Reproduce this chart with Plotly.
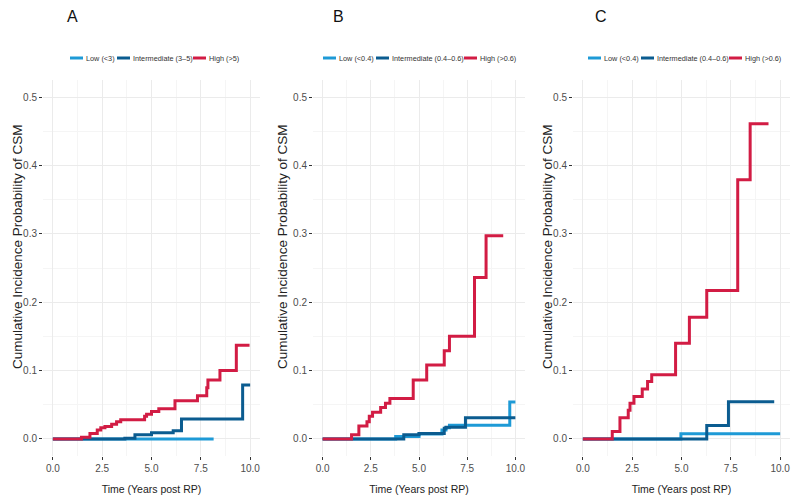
import plotly.graph_objects as go

# ---------------- data ----------------
# Panel A
A_low_t = [0, 8.15]
A_low_y = [0, 0]
A_int_t = [0, 3.65, 4.16, 5.0, 6.1, 6.52, 9.62, 10.0]
A_int_y = [0, 0.001, 0.006, 0.009, 0.012, 0.029, 0.079, 0.079]
A_high_t = [0, 1.45, 1.88, 2.25, 2.43, 2.64, 2.98, 3.23, 3.44, 4.65, 4.75, 5.0, 5.37,
            6.19, 7.33, 7.8, 7.86, 8.47, 9.3, 9.97]
A_high_y = [0, 0.0025, 0.008, 0.013, 0.0165, 0.018, 0.0215, 0.025, 0.028, 0.033, 0.036,
            0.040, 0.044, 0.056, 0.063, 0.075, 0.086, 0.100, 0.137, 0.137]

# Panel B
B_low_t = [0, 3.79, 5.0, 6.19, 6.4, 6.58, 9.71, 10.0]
B_low_y = [0, 0.0034, 0.007, 0.013, 0.0165, 0.020, 0.054, 0.054]
B_int_t = [0, 4.21, 5.0, 6.31, 6.4, 7.41, 10.0]
B_int_y = [0, 0.006, 0.008, 0.0156, 0.017, 0.031, 0.031]
B_high_t = [0, 1.5, 1.88, 2.3, 2.42, 2.59, 3.01, 3.26, 3.49, 4.7, 5.4, 6.31, 6.58,
            7.88, 8.48, 9.37]
B_high_y = [0, 0.006, 0.019, 0.025, 0.033, 0.039, 0.046, 0.052, 0.059, 0.086, 0.108,
            0.129, 0.150, 0.236, 0.297, 0.297]

# Panel C
C_low_t = [0, 4.97, 10.0]
C_low_y = [0, 0.0075, 0.0075]
C_int_t = [0, 6.28, 7.38, 9.7]
C_int_y = [0, 0.0195, 0.0545, 0.0545]
C_high_t = [0, 1.49, 1.88, 2.3, 2.39, 2.59, 3.01, 3.28, 3.49, 4.7, 5.4, 6.28, 7.85,
            8.48, 9.41]
C_high_y = [0, 0.0107, 0.031, 0.042, 0.052, 0.062, 0.073, 0.084, 0.094, 0.140, 0.178,
            0.217, 0.379, 0.461, 0.461]

panel_letters = ["A", "B", "C"]
legend_names = [
    ["Low (<3)", "Intermediate (3\u20135)", "High (>5)"],
    ["Low (<0.4)", "Intermediate (0.4\u20130.6)", "High (>0.6)"],
    ["Low (<0.4)", "Intermediate (0.4\u20130.6)", "High (>0.6)"],
]
x_ticks = [0, 2.5, 5.0, 7.5, 10.0]
y_ticks = [0, 0.1, 0.2, 0.3, 0.4, 0.5]
x_title = "Time (Years post RP)"
y_title = "Cumulative Incidence Probability of CSM"

series = [
    [(A_low_t, A_low_y), (A_int_t, A_int_y), (A_high_t, A_high_y)],
    [(B_low_t, B_low_y), (B_int_t, B_int_y), (B_high_t, B_high_y)],
    [(C_low_t, C_low_y), (C_int_t, C_int_y), (C_high_t, C_high_y)],
]
colors = ["#1e9ad6", "#0b5c90", "#d21c44"]

# ---------------- layout ----------------
# The page body has an 8px margin, so the figure is drawn 8px in from the
# window corner; size it to fit the window and position in window pixels.
OFF = 8
W, H = 800 - OFF, 501 - OFF


def px_x(x):
    return (x - OFF) / W


def px_y(y):
    return 1 - (y - OFF) / H


x_domains = [(px_x(43), px_x(260)), (px_x(313), px_x(525)), (px_x(573), px_x(790))]
y_domain = (px_y(456), px_y(80))
letter_pos = [(72, 17), (338, 17), (601, 17)]
ytitle_x = [18, 283, 548]
legend_sym_x = [[70, 117, 193], [323, 376, 464], [588, 641, 729]]
LEG_Y = 58
SYM_W = 13

FONT = "Liberation Sans Narrow, Arial Narrow, Liberation Sans, Arial, sans-serif"

fig = go.Figure()
for p in range(3):
    xa = "x" if p == 0 else f"x{p+1}"
    ya = "y" if p == 0 else f"y{p+1}"
    for k, (t, v) in enumerate(series[p]):
        fig.add_trace(go.Scatter(
            x=t, y=v, mode="lines", line=dict(color=colors[k], width=3, shape="hv"),
            name=legend_names[p][k], xaxis=xa, yaxis=ya, showlegend=False,
        ))

layout = dict(
    width=W, height=H, margin=dict(l=0, r=0, t=0, b=0, autoexpand=False),
    paper_bgcolor="white", plot_bgcolor="white",
    font=dict(family=FONT, size=10, color="#4d4d4d"),
    showlegend=False,
)
for p in range(3):
    suf = "" if p == 0 else str(p + 1)
    layout[f"xaxis{suf}"] = dict(
        domain=list(x_domains[p]), anchor=f"y{suf}", range=[-0.5, 10.5],
        tickvals=x_ticks, tickformat=".1f", ticks="outside", ticklen=3, tickwidth=1,
        tickcolor="#333333", showline=False, zeroline=False,
        showgrid=True, gridcolor="#ebebeb", gridwidth=1,
        minor=dict(dtick=1.25, tick0=0, showgrid=True, gridcolor="#f5f5f5", ticks=""),
        tickfont=dict(size=10, color="#4d4d4d"),
        title=dict(text=x_title, font=dict(size=10.5, color="#222222"), standoff=12),
        fixedrange=True, automargin=False,
    )
    layout[f"yaxis{suf}"] = dict(
        domain=list(y_domain), anchor=f"x{suf}", range=[-0.025, 0.525],
        tickvals=y_ticks, tickformat=".1f", ticks="outside", ticklen=3, tickwidth=1,
        tickcolor="#333333", showline=False, zeroline=False,
        showgrid=True, gridcolor="#ebebeb", gridwidth=1,
        minor=dict(dtick=0.05, tick0=0, showgrid=True, gridcolor="#f5f5f5", ticks=""),
        tickfont=dict(size=10, color="#4d4d4d"),
        fixedrange=True, automargin=False,
    )

annotations = []
shapes = []
for p in range(3):
    lx, ly = letter_pos[p]
    annotations.append(dict(
        text=panel_letters[p], x=px_x(lx), y=px_y(ly), xref="paper", yref="paper",
        showarrow=False, font=dict(family="Liberation Sans, Arial", size=16, color="#111111"),
        xanchor="center", yanchor="middle",
    ))
    annotations.append(dict(
        text=y_title, x=px_x(ytitle_x[p]), y=px_y(247), xref="paper", yref="paper",
        showarrow=False, textangle=-90,
        font=dict(family="Liberation Sans, Arial", size=13.5, color="#222222"),
        xanchor="center", yanchor="middle",
    ))
    for k in range(3):
        sx = legend_sym_x[p][k]
        shapes.append(dict(
            type="line", xref="paper", yref="paper",
            x0=px_x(sx), x1=px_x(sx + SYM_W), y0=px_y(LEG_Y), y1=px_y(LEG_Y),
            line=dict(color=colors[k], width=3),
        ))
        annotations.append(dict(
            text=legend_names[p][k], x=px_x(sx + SYM_W + 1), y=px_y(LEG_Y),
            xref="paper", yref="paper", showarrow=False, xanchor="left", yanchor="middle",
            font=dict(family=FONT, size=7.3, color="#333333"),
        ))
layout["annotations"] = annotations
layout["shapes"] = shapes

fig.update_layout(**layout)
fig.write_html("out.html")
